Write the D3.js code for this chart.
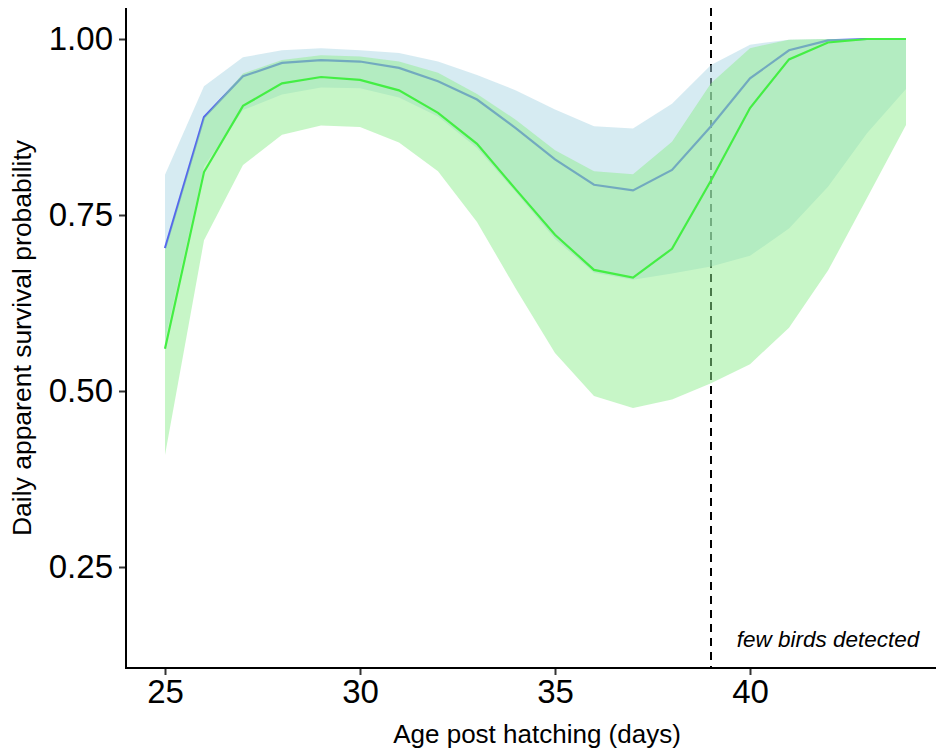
<!DOCTYPE html>
<html>
<head>
<meta charset="utf-8">
<script src="https://cdn.jsdelivr.net/npm/d3@7"></script>
<style>
  html, body { margin: 0; padding: 0; background: #fff; }
  svg { display: block; font-family: "Liberation Sans", Arial, sans-serif; }
</style>
</head>
<body>
<svg id="chart" width="936" height="750"></svg>
<script>
// Age post hatching (days)
const days = [25, 26, 27, 28, 29, 30, 31, 32, 33, 34, 35, 36, 37, 38, 39, 40, 41, 42, 43, 44];

// Group 1 (blue): mean daily apparent survival with credible interval
const blueMean = [0.703, 0.889, 0.947, 0.966, 0.970, 0.968, 0.959, 0.940, 0.914, 0.873, 0.829, 0.793, 0.785, 0.814, 0.876, 0.944, 0.984, 0.998, 1.000, 1.000];
const blueLow  = [0.572, 0.819, 0.899, 0.921, 0.931, 0.930, 0.917, 0.890, 0.845, 0.782, 0.716, 0.668, 0.658, 0.667, 0.677, 0.692, 0.731, 0.790, 0.866, 0.929];
const blueHigh = [0.807, 0.933, 0.974, 0.984, 0.987, 0.984, 0.980, 0.968, 0.949, 0.927, 0.900, 0.876, 0.873, 0.908, 0.963, 0.992, 0.999, 1.000, 1.000, 1.000];

// Group 2 (green): mean daily apparent survival with credible interval
const greenMean = [0.560, 0.811, 0.905, 0.937, 0.946, 0.942, 0.927, 0.895, 0.851, 0.786, 0.722, 0.672, 0.661, 0.702, 0.799, 0.902, 0.971, 0.995, 1.000, 1.000];
const greenLow  = [0.409, 0.714, 0.821, 0.864, 0.877, 0.875, 0.853, 0.812, 0.740, 0.645, 0.554, 0.493, 0.476, 0.488, 0.511, 0.538, 0.590, 0.671, 0.774, 0.878];
const greenHigh = [0.700, 0.888, 0.951, 0.970, 0.977, 0.975, 0.968, 0.952, 0.922, 0.885, 0.842, 0.812, 0.808, 0.854, 0.937, 0.987, 0.999, 1.000, 1.000, 1.000];

// Axis ticks and annotation
const xTicks = [25, 30, 35, 40];
const yTicks = [0.25, 0.50, 0.75, 1.00];
const cutoffDay = 39;
const cutoffLabel = "few birds detected";
const xTitle = "Age post hatching (days)";
const yTitle = "Daily apparent survival probability";

const svg = d3.select("#chart");
const x = d3.scaleLinear().domain([25, 44]).range([165, 906]);
const y = d3.scaleLinear().domain([0, 1]).range([743, 39]);
const xLeft = 126, xRight = 936, yBottom = 668, yTop = 8;

const rows = (mean, lo, hi) => days.map((d, i) => ({ d, m: mean[i], lo: lo[i], hi: hi[i] }));
const blue = rows(blueMean, blueLow, blueHigh);
const green = rows(greenMean, greenLow, greenHigh);

const area = d3.area().x(r => x(r.d)).y0(r => y(r.lo)).y1(r => y(r.hi));
const line = d3.line().x(r => x(r.d)).y(r => y(r.m));

// dashed cut-off line sits beneath the ribbons
svg.append("line")
  .attr("x1", x(cutoffDay)).attr("x2", x(cutoffDay))
  .attr("y1", yTop).attr("y2", yBottom)
  .attr("stroke", "#000").attr("stroke-width", 2)
  .attr("stroke-dasharray", "8,6");

svg.append("path").datum(blue).attr("d", area)
  .attr("fill", "#add8e6").attr("fill-opacity", 0.5);
svg.append("path").datum(blue).attr("d", line)
  .attr("fill", "none").attr("stroke", "#5566ee").attr("stroke-width", 2.2);

svg.append("path").datum(green).attr("d", area)
  .attr("fill", "#90ee90").attr("fill-opacity", 0.5);
svg.append("path").datum(green).attr("d", line)
  .attr("fill", "none").attr("stroke", "#44ee44").attr("stroke-width", 2.2);

// axes
const xAxis = svg.append("g").attr("transform", `translate(0,${yBottom})`)
  .call(d3.axisBottom(x).tickValues(xTicks).tickFormat(d3.format("d")).tickSize(7).tickPadding(5));
xAxis.select(".domain").remove();
xAxis.append("line").attr("x1", xLeft).attr("x2", xRight).attr("y1", 0).attr("y2", 0)
  .attr("stroke", "#000").attr("stroke-width", 2);

const yAxis = svg.append("g").attr("transform", `translate(${xLeft},0)`)
  .call(d3.axisLeft(y).tickValues(yTicks).tickFormat(d3.format(".2f")).tickSize(7).tickPadding(6));
yAxis.select(".domain").remove();
yAxis.append("line").attr("x1", 0).attr("x2", 0).attr("y1", yTop).attr("y2", yBottom + 1)
  .attr("stroke", "#000").attr("stroke-width", 2);

svg.selectAll(".tick line").attr("stroke", "#333").attr("stroke-width", 2);
svg.selectAll(".tick text").attr("fill", "#000").style("font-size", "33px")
  .style("font-family", "'Liberation Sans', Arial, sans-serif");

// titles
svg.append("text").attr("x", 537).attr("y", 743).attr("text-anchor", "middle")
  .style("font-size", "26px").text(xTitle);
svg.append("text").attr("transform", "translate(31,338) rotate(-90)").attr("text-anchor", "middle")
  .style("font-size", "26.5px").text(yTitle);

svg.append("text").attr("x", 828).attr("y", 647).attr("text-anchor", "middle")
  .style("font-size", "22.5px").style("font-style", "italic").text(cutoffLabel);
</script>
</body>
</html>
